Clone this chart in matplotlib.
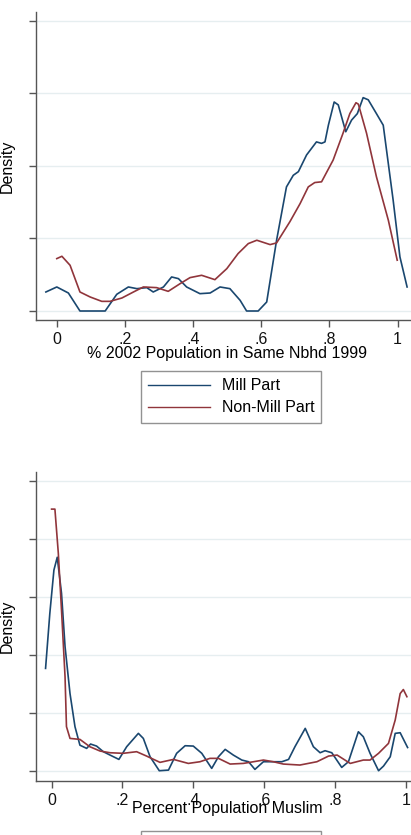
import matplotlib
matplotlib.use("Agg")
import matplotlib.pyplot as plt

plt.rcParams['font.family'] = ['Liberation Sans', 'DejaVu Sans']

# 颜色 (Stata s2color)
navy = '#1a476f'
maroon = '#90353b'
grid_col = '#e6eef0'
axis_col = '#555555'

# 上图: % 2002 Population in Same Nbhd 1999
mill1_x = [-0.032, 0.0, 0.034, 0.068, 0.142, 0.176, 0.21, 0.235, 0.264, 0.283, 0.313, 0.337,
           0.357, 0.381, 0.42, 0.45, 0.479, 0.508, 0.538, 0.557, 0.591, 0.616, 0.645, 0.674,
           0.694, 0.709, 0.733, 0.762, 0.777, 0.787, 0.797, 0.814, 0.826, 0.848, 0.865, 0.882,
           0.899, 0.914, 0.938, 0.958, 0.987, 1.007, 1.028]
mill1_y = [0.262, 0.331, 0.248, 0.0, 0.0, 0.23, 0.331, 0.308, 0.322, 0.262, 0.331, 0.469,
           0.446, 0.331, 0.239, 0.248, 0.331, 0.308, 0.147, 0.0, 0.0, 0.124, 0.975, 1.71,
           1.87, 1.92, 2.15, 2.33, 2.31, 2.33, 2.56, 2.88, 2.84, 2.47, 2.63, 2.72,
           2.94, 2.91, 2.72, 2.56, 1.53, 0.745, 0.331]
non1_x = [0.0, 0.015, 0.039, 0.068, 0.098, 0.132, 0.156, 0.191, 0.225, 0.254, 0.293, 0.327,
          0.362, 0.391, 0.425, 0.464, 0.499, 0.532, 0.562, 0.587, 0.626, 0.645, 0.684, 0.714,
          0.738, 0.757, 0.777, 0.811, 0.84, 0.86, 0.878, 0.885, 0.909, 0.938, 0.973, 0.999]
non1_y = [0.722, 0.754, 0.63, 0.262, 0.193, 0.133, 0.133, 0.179, 0.262, 0.331, 0.322, 0.271,
          0.377, 0.46, 0.492, 0.432, 0.584, 0.791, 0.929, 0.975, 0.915, 0.938, 1.23, 1.48,
          1.71, 1.77, 1.78, 2.08, 2.45, 2.72, 2.87, 2.85, 2.45, 1.85, 1.25, 0.70]

# 下图: Percent Population Muslim
mill2_x = [-0.017, -0.005, 0.0066, 0.016, 0.028, 0.038, 0.052, 0.066, 0.08, 0.099, 0.11, 0.127,
           0.146, 0.165, 0.19, 0.212, 0.245, 0.259, 0.278, 0.304, 0.33, 0.353, 0.377, 0.4,
           0.424, 0.452, 0.471, 0.49, 0.513, 0.537, 0.556, 0.574, 0.598, 0.626, 0.65, 0.669,
           0.687, 0.716, 0.739, 0.758, 0.772, 0.791, 0.819, 0.838, 0.866, 0.88, 0.899, 0.923,
           0.937, 0.956, 0.97, 0.984, 1.005]
mill2_y = [1.764, 2.71, 3.46, 3.68, 3.06, 2.14, 1.33, 0.76, 0.44, 0.385, 0.46, 0.425,
           0.328, 0.27, 0.195, 0.414, 0.644, 0.557, 0.241, 0.0, 0.011, 0.30, 0.431, 0.425,
           0.30, 0.04, 0.241, 0.368, 0.27, 0.184, 0.155, 0.023, 0.155, 0.155, 0.155, 0.195,
           0.414, 0.73, 0.414, 0.31, 0.345, 0.31, 0.057, 0.155, 0.672, 0.586, 0.30, 0.0,
           0.08, 0.241, 0.644, 0.655, 0.40]
non2_x = [0.0, 0.0094, 0.019, 0.028, 0.038, 0.042, 0.052, 0.08, 0.108, 0.137, 0.165, 0.202,
          0.24, 0.268, 0.306, 0.344, 0.386, 0.419, 0.447, 0.471, 0.504, 0.541, 0.57, 0.598,
          0.626, 0.654, 0.701, 0.749, 0.782, 0.806, 0.843, 0.88, 0.899, 0.923, 0.951, 0.97,
          0.984, 0.993, 1.003]
non2_y = [4.51, 4.51, 3.75, 2.77, 1.62, 0.76, 0.557, 0.54, 0.414, 0.339, 0.31, 0.30,
          0.328, 0.253, 0.144, 0.195, 0.126, 0.155, 0.213, 0.213, 0.115, 0.126, 0.155, 0.184,
          0.155, 0.115, 0.098, 0.155, 0.253, 0.27, 0.126, 0.184, 0.184, 0.30, 0.471, 0.874,
          1.33, 1.40, 1.276]

x_ticks = [0, 0.2, 0.4, 0.6, 0.8, 1.0]
x_labels = ['0', '.2', '.4', '.6', '.8', '1']
legend_labels = ['Mill Part', 'Non-Mill Part']

W, H = 411, 835
fig = plt.figure(figsize=(W / 100, H / 100), dpi=100)


def make_axes(left, top, right, bottom):
    """像素坐标 -> figure 坐标"""
    return fig.add_axes([left / W, 1 - bottom / H, (right - left) / W, (bottom - top) / H])


def style_axes(ax, n_ticks, xlim, ylim, xlabel, label_y):
    ax.set_xlim(*xlim)
    ax.set_ylim(*ylim)
    ax.set_yticks(range(n_ticks))
    ax.set_yticklabels([])
    ax.set_xticks(x_ticks)
    ax.set_xticklabels(x_labels)
    ax.yaxis.grid(True, color=grid_col, lw=1.0)
    ax.set_axisbelow(True)
    for s in ['top', 'right']:
        ax.spines[s].set_visible(False)
    for s in ['left', 'bottom']:
        ax.spines[s].set_color(axis_col)
        ax.spines[s].set_linewidth(1.0)
    ax.tick_params(axis='both', colors=axis_col, length=5, width=1.0,
                   labelsize=11.5, labelcolor='#111111', pad=4)
    ax.set_ylabel('Density', fontsize=11.5, labelpad=6)
    fig.text(227 / W, 1 - label_y / H, xlabel, ha='center', va='center', fontsize=11.5)


# 上图
ax1 = make_axes(36, 12, 418, 320)
ax1.plot(mill1_x, mill1_y, color=navy, lw=1.2, label=legend_labels[0])
ax1.plot(non1_x, non1_y, color=maroon, lw=1.2, label=legend_labels[1])
style_axes(ax1, 5, (-0.061, 1.06), (-0.124, 4.12), '% 2002 Population in Same Nbhd 1999', 353)

# 下图
ax2 = make_axes(36, 471.7, 420, 780.7)
ax2.plot(mill2_x, mill2_y, color=navy, lw=1.2, label=legend_labels[0])
ax2.plot(non2_x, non2_y, color=maroon, lw=1.2, label=legend_labels[1])
style_axes(ax2, 6, (-0.044, 1.04), (-0.172, 5.155), 'Percent Population Muslim', 809)

for ax, top in [(ax1, 371), (ax2, 831)]:
    leg = ax.legend(loc='upper left', bbox_to_anchor=(141 / W, 1 - top / H),
                    bbox_transform=fig.transFigure, frameon=True, fancybox=False,
                    fontsize=11.5, handlelength=3.9, handletextpad=0.7,
                    labelspacing=0.45, borderpad=0.45, borderaxespad=0)
    leg.get_frame().set_edgecolor('#777777')
    leg.get_frame().set_linewidth(1.0)
    for line in leg.get_lines():
        line.set_linewidth(1.0)

fig.savefig('out.png', dpi=100)
